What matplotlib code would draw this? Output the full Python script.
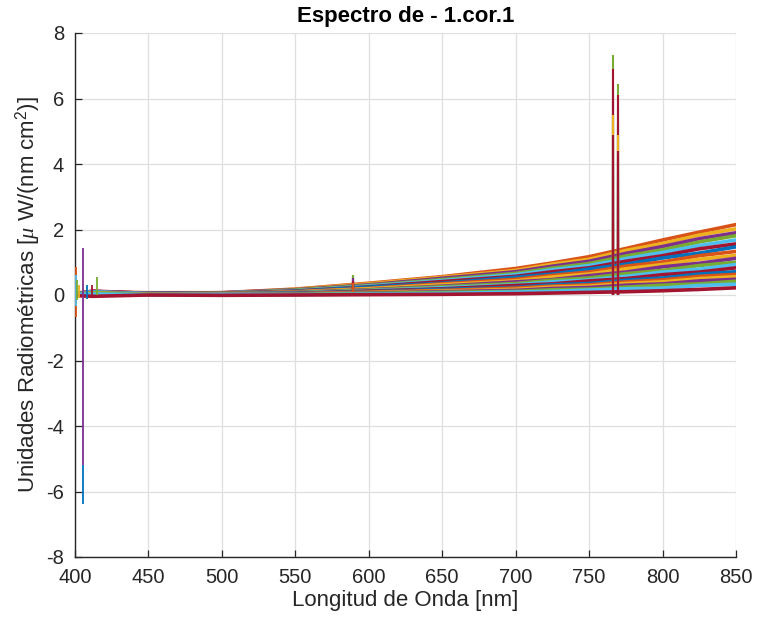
import matplotlib
matplotlib.use("Agg")
import matplotlib.pyplot as plt
import numpy as np

# MATLAB default line colour order
line_colors = ["#0072BD", "#D95319", "#EDB120", "#7E2F8E", "#77AC30", "#4DBEEE", "#A2142F"]

wavelength_nm = [400, 412, 450, 500, 550, 600, 650, 700, 725, 750, 775, 800, 825, 850]

# Broad background of every spectrum, highest first (uW/(nm cm^2))
spectra = [
  [0.06, 0.10, 0.07, 0.07, 0.18, 0.36, 0.56, 0.81, 0.98, 1.17, 1.42, 1.68, 1.92, 2.15],
  [0.05, 0.08, 0.06, 0.06, 0.17, 0.34, 0.54, 0.75, 0.94, 1.09, 1.36, 1.57, 1.83, 2.02],
  [0.04, 0.11, 0.05, 0.07, 0.16, 0.31, 0.51, 0.71, 0.88, 1.03, 1.27, 1.48, 1.72, 1.90],
  [0.03, 0.07, 0.06, 0.05, 0.15, 0.29, 0.47, 0.66, 0.82, 0.96, 1.19, 1.38, 1.62, 1.81],
  [0.05, 0.09, 0.04, 0.06, 0.13, 0.27, 0.44, 0.62, 0.77, 0.90, 1.11, 1.30, 1.51, 1.68],
  [0.02, 0.12, 0.05, 0.05, 0.12, 0.25, 0.41, 0.57, 0.71, 0.83, 1.03, 1.20, 1.41, 1.56],
  [0.04, 0.06, 0.05, 0.04, 0.11, 0.24, 0.36, 0.54, 0.64, 0.79, 0.94, 1.13, 1.28, 1.47],
  [0.03, 0.10, 0.03, 0.05, 0.10, 0.20, 0.34, 0.48, 0.60, 0.70, 0.88, 1.01, 1.20, 1.33],
  [0.02, 0.08, 0.04, 0.03, 0.09, 0.19, 0.31, 0.43, 0.55, 0.64, 0.80, 0.93, 1.09, 1.21],
  [0.04, 0.09, 0.05, 0.04, 0.08, 0.16, 0.27, 0.40, 0.47, 0.59, 0.70, 0.86, 0.97, 1.12],
  [0.01, 0.07, 0.03, 0.05, 0.07, 0.15, 0.25, 0.35, 0.45, 0.52, 0.65, 0.75, 0.90, 1.00],
  [0.03, 0.10, 0.04, 0.03, 0.06, 0.13, 0.22, 0.31, 0.40, 0.46, 0.57, 0.70, 0.79, 0.93],
  [0.02, 0.06, 0.03, 0.04, 0.05, 0.12, 0.19, 0.29, 0.34, 0.43, 0.50, 0.62, 0.70, 0.83],
  [0.04, 0.08, 0.02, 0.03, 0.05, 0.10, 0.17, 0.23, 0.31, 0.35, 0.45, 0.52, 0.64, 0.71],
  [0.01, 0.05, 0.03, 0.02, 0.04, 0.09, 0.14, 0.21, 0.27, 0.31, 0.40, 0.46, 0.57, 0.63],
  [0.03, 0.07, 0.02, 0.03, 0.03, 0.07, 0.12, 0.17, 0.24, 0.27, 0.35, 0.40, 0.50, 0.56],
  [0.02, 0.04, 0.01, 0.02, 0.03, 0.06, 0.10, 0.14, 0.20, 0.23, 0.30, 0.34, 0.43, 0.48],
  [0.00, 0.06, 0.02, 0.01, 0.02, 0.05, 0.08, 0.11, 0.16, 0.18, 0.24, 0.30, 0.34, 0.42],
  [0.02, 0.03, 0.01, 0.02, 0.01, 0.03, 0.05, 0.09, 0.11, 0.15, 0.19, 0.21, 0.29, 0.33],
  [-0.02, -0.04, 0.00, -0.01, 0.00, 0.01, 0.02, 0.04, 0.06, 0.08, 0.10, 0.13, 0.17, 0.22],
]

# Potassium emission doublet: peak value of each spectrum
k_line_nm = [766.5, 769.9]
k_peak_a = [2.1, 3.4, 5.9, 7.32, 4.3, 2.6, 6.4, 1.8, 5.1, 3.0, 4.7, 1.4, 6.9, 3.9, 2.3, 5.5, 1.1, 3.6, 0.8, 4.9]
k_peak_b = [1.9, 3.0, 5.2, 6.45, 3.8, 2.3, 5.7, 1.6, 4.5, 2.7, 4.2, 1.3, 6.1, 3.5, 2.0, 4.9, 1.0, 3.2, 0.7, 4.4]

# Sodium line, only a few spectra show it
na_line_nm = 589.5
na_peaks = [0.61, 0.52, 0.44, 0.36]
na_spectrum = [3, 2, 5, 0]

# Detector edge artefacts near 400 nm
edge_nm = [400.4, 401.0, 401.6, 402.6, 405.7, 408.2, 411.3, 414.7]
edge_top = [0.86, 0.62, 0.45, 0.30, 1.42, 0.30, 0.30, 0.56]
edge_bottom = [-0.66, -0.35, -0.15, -0.10, -5.18, -0.12, -0.05, 0.00]
edge_spectrum = [1, 5, 4, 2, 3, 0, 6, 4]
edge_tail_nm = 405.7
edge_tail = [-5.18, -6.37]

#-------------------------------------------------------------------------------

plt.rcParams["font.family"] = ["Liberation Sans", "DejaVu Sans"]
plt.rcParams["axes.unicode_minus"] = False
plt.rcParams["mathtext.fontset"] = "custom"
plt.rcParams["mathtext.it"] = "Liberation Serif:italic"
plt.rcParams["mathtext.rm"] = "Liberation Sans"

fig = plt.figure(figsize=(7.57, 6.25), dpi=100)
ax = fig.add_axes([75/757, 68/625, 661/757, 524/625])

axis_color = "#262626"

# Background spectra and their K lines, drawn spectrum by spectrum
for i, row in enumerate(spectra):
  color = line_colors[(i + 1) % len(line_colors)]
  z = 2 + i * 0.01
  ax.plot(wavelength_nm, row, color=color, linewidth=2.6, zorder=z)
  ax.vlines(k_line_nm[0], 0, k_peak_a[i], color=color, linewidth=1.5, zorder=z)
  ax.vlines(k_line_nm[1], 0, k_peak_b[i], color=color, linewidth=1.5, zorder=z)

for peak, s in zip(na_peaks, na_spectrum):
  ax.vlines(na_line_nm, 0.1, peak, color=line_colors[(s + 1) % 7], linewidth=1.6, zorder=3)

for nm, top, bot, s in zip(edge_nm, edge_top, edge_bottom, edge_spectrum):
  ax.vlines(nm, bot, top, color=line_colors[s], linewidth=1.3, zorder=3)
ax.vlines(edge_tail_nm, edge_tail[1], edge_tail[0], color=line_colors[0], linewidth=1.3, zorder=3)

ax.set_xlim(400, 850)
ax.set_ylim(-8, 8)
ax.set_xticks(np.arange(400, 851, 50))
ax.set_yticks(np.arange(-8, 9, 2))

ax.grid(True, color="#DFDFDF", linewidth=0.9, zorder=0)
ax.set_axisbelow(True)
for side in ("top", "right"):
  ax.spines[side].set_visible(False)
for side in ("left", "bottom"):
  ax.spines[side].set_color(axis_color)
  ax.spines[side].set_linewidth(1.0)
ax.tick_params(direction="in", length=5, width=0.9, color=axis_color,
               labelcolor=axis_color, labelsize=14.5)
ax.tick_params(axis="x", pad=8)
ax.tick_params(axis="y", pad=8)

ax.set_xlabel("Longitud de Onda [nm]", fontsize=16, color=axis_color, labelpad=2)
ax.set_ylabel(r"Unidades Radiométricas [$\mu$ W/(nm cm$^2$)]", fontsize=16,
              color=axis_color, labelpad=2)
ax.set_title("Espectro de - 1.cor.1", fontsize=16, fontweight="bold", color="black", pad=8)

fig.savefig("out.png", dpi=100)
